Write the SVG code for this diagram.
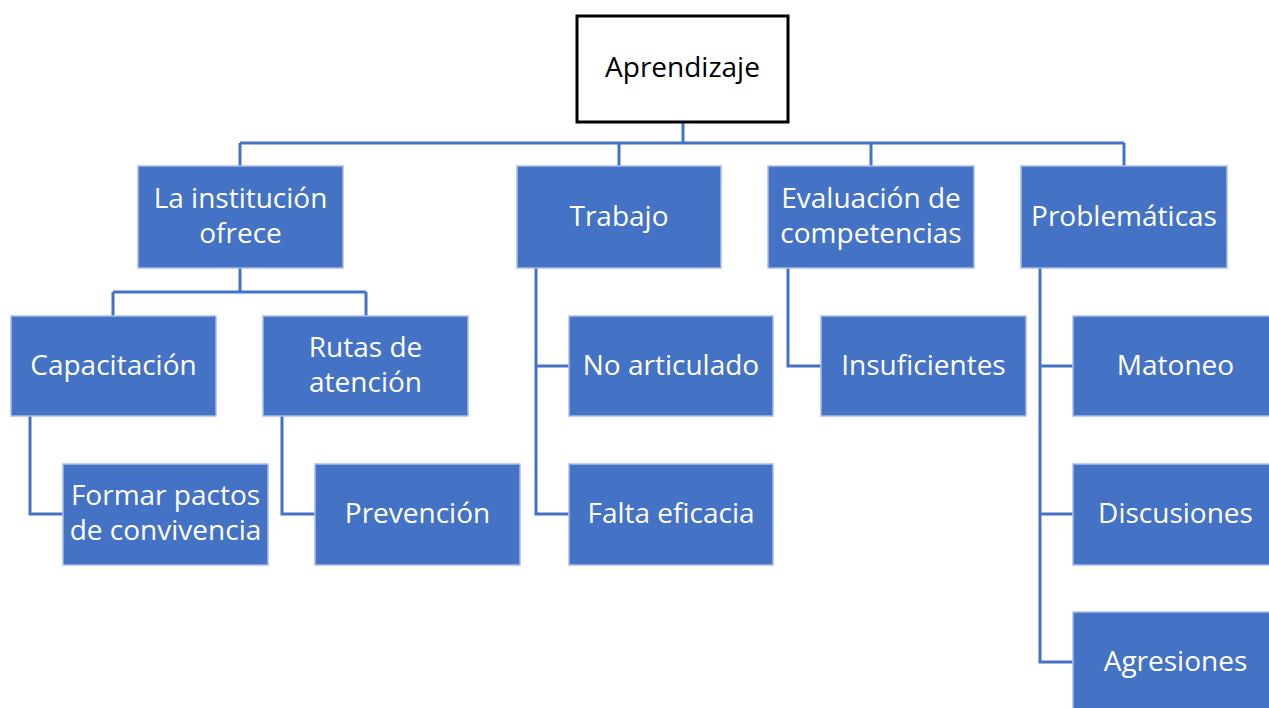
<svg xmlns="http://www.w3.org/2000/svg" width="1269" height="708" viewBox="0 0 1269 708">
<style>
.box{fill:#4472C4;stroke:#a9bde6;stroke-width:1.5}
.root{fill:#ffffff;stroke:#000000;stroke-width:3}
.t{font-family:"Open Sans","Liberation Sans",sans-serif;font-size:28px;fill:#ffffff;text-anchor:middle}
.tr{font-family:"Open Sans","Liberation Sans",sans-serif;font-size:28px;fill:#000000;text-anchor:middle}
.c{fill:none;stroke:#4472C4;stroke-width:3}
</style>
<rect width="1269" height="708" fill="#ffffff"/>
<g id="connectors">
<path class="c" d="M683 122V143M240 143H1124M240 143V166M619 143V166M871 143V166M1124 143V166"/>
<path class="c" d="M240 268V292M113 292H366M113 292V316M366 292V316"/>
<path class="c" d="M30 415V514H63"/>
<path class="c" d="M282 415V514H315"/>
<path class="c" d="M536 268V514H569M536 366H569"/>
<path class="c" d="M788 268V366H821"/>
<path class="c" d="M1040 268V662H1073M1040 366H1073M1040 514H1073"/>
</g>
<g id="aprendizaje"><rect class="root" x="577" y="16" width="211" height="106"/><text class="tr" x="682.5" y="77">Aprendizaje</text></g>
<g id="institucion"><rect class="box" x="138" y="166" width="205" height="102"/><text class="t" x="240.5" y="208">La institución</text><text class="t" x="240.5" y="243">ofrece</text></g>
<g id="trabajo"><rect class="box" x="517" y="166" width="204" height="102"/><text class="t" x="619" y="226">Trabajo</text></g>
<g id="evaluacion"><rect class="box" x="768" y="166" width="206" height="102"/><text class="t" x="871" y="208">Evaluación de</text><text class="t" x="871" y="243">competencias</text></g>
<g id="problematicas"><rect class="box" x="1021" y="166" width="206" height="102"/><text class="t" x="1124" y="226">Problemáticas</text></g>
<g id="capacitacion"><rect class="box" x="11" y="316" width="205" height="100"/><text class="t" x="113.5" y="375">Capacitación</text></g>
<g id="rutas"><rect class="box" x="263" y="316" width="205" height="100"/><text class="t" x="365.5" y="357">Rutas de</text><text class="t" x="365.5" y="392">atención</text></g>
<g id="formar"><rect class="box" x="63" y="464" width="205" height="101"/><text class="t" x="165.5" y="505">Formar pactos</text><text class="t" x="165.5" y="540">de convivencia</text></g>
<g id="prevencion"><rect class="box" x="315" y="464" width="205" height="101"/><text class="t" x="417.5" y="523">Prevención</text></g>
<g id="noarticulado"><rect class="box" x="569" y="316" width="204" height="100"/><text class="t" x="671" y="375">No articulado</text></g>
<g id="faltaeficacia"><rect class="box" x="569" y="464" width="204" height="101"/><text class="t" x="671" y="523">Falta eficacia</text></g>
<g id="insuficientes"><rect class="box" x="821" y="316" width="205" height="100"/><text class="t" x="923.5" y="375">Insuficientes</text></g>
<g id="matoneo"><rect class="box" x="1073" y="316" width="205" height="100"/><text class="t" x="1175.5" y="375">Matoneo</text></g>
<g id="discusiones"><rect class="box" x="1073" y="464" width="205" height="101"/><text class="t" x="1175.5" y="523">Discusiones</text></g>
<g id="agresiones"><rect class="box" x="1073" y="612" width="205" height="101"/><text class="t" x="1175.5" y="671">Agresiones</text></g>
</svg>
